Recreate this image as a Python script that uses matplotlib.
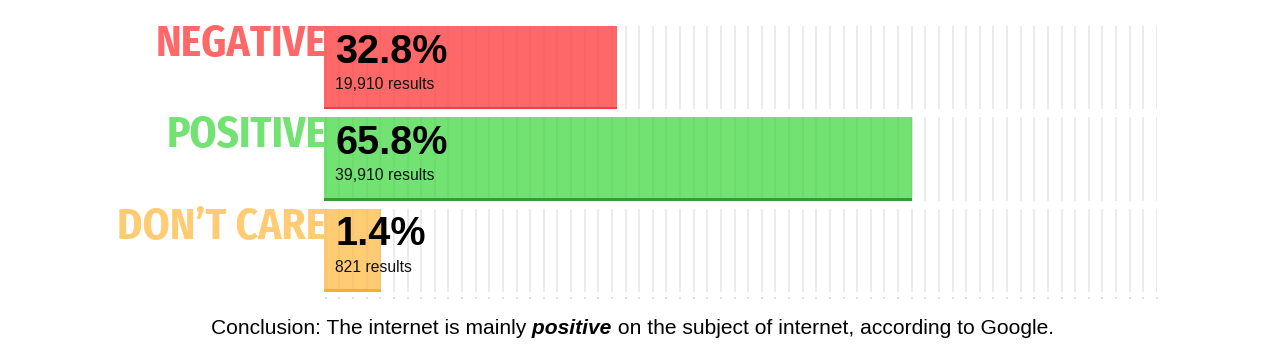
import numpy as np
import matplotlib.pyplot as plt

# Data
categories = ['NEGATIVE', 'POSITIVE', 'DON\u2019T CARE']
percent = [32.8, 65.8, 1.4]
results = ['19,910', '39,910', '821']
colors = ['#ff6868', '#72e272', '#ffcc74']
edge_colors = ['#f03c3c', '#3a9a3a', '#f5ae2e']

fig = plt.figure(figsize=(12.8, 3.53), dpi=100)
ax = fig.add_axes([324 / 1280, 1 - 292 / 353, 833 / 1280, 266 / 353])

xmax = 93.2
h = 0.912
ypos = np.arange(len(categories))
# very small shares still get a visible stub
widths = [max(p, 6.4) for p in percent]

label_font = ['Fira Sans Condensed', 'DejaVu Sans']
body_font = ['Liberation Sans', 'DejaVu Sans']

grid_x = np.linspace(0.2, xmax, 62)
for i, y in enumerate(ypos):
    ax.vlines(grid_x, y - h / 2, y + h / 2, color='#e8e8e8', lw=1.2, zorder=1)
    ax.barh(y, widths[i], height=h, color=colors[i], zorder=2)
    # darker bottom stroke
    ax.barh(y + h / 2 - 0.015, widths[i], height=0.03, color=edge_colors[i], zorder=3)
    # faint grid stripes through the bar
    inside = grid_x[grid_x < widths[i]]
    ax.vlines(inside, y - h / 2, y + h / 2 - 0.03, color='black', alpha=0.03, lw=1.2, zorder=3)

    ax.text(0.25, y - 0.25, categories[i], ha='right', va='center',
            fontsize=31, fontweight='bold', color=colors[i],
            family=label_font, zorder=1)
    ax.text(1.25, y - 0.175, f'{percent[i]}%', ha='left', va='center',
            fontsize=28.5, fontweight='bold', color='black',
            family=body_font, zorder=4)
    ax.text(1.25, y + 0.185, f'{results[i]} results', ha='left', va='center',
            fontsize=11.3, color='#111111',
            family=body_font, zorder=4)

# little tick dots under the last row
ax.vlines(grid_x, ypos[-1] + h / 2 + 0.055, ypos[-1] + h / 2 + 0.08,
          color='#dddddd', lw=1.2, clip_on=False)

ax.set_xlim(0, xmax)
ax.set_ylim(ypos[-1] + h / 2, -h / 2)
ax.axis('off')

# conclusion line, the middle word in bold italic
t1 = fig.text(211 / 1280, 1 - 338 / 353, 'Conclusion: The internet is mainly',
              ha='left', va='bottom', fontsize=15.15, color='black', family=body_font)
t2 = fig.text(0, 0, ' positive', ha='left', va='bottom', fontsize=15.15,
              fontweight='bold', fontstyle='italic', color='black', family=body_font)
t3 = fig.text(0, 0, ' on the subject of internet, according to Google.',
              ha='left', va='bottom', fontsize=15.15, color='black', family=body_font)
fig.canvas.draw()
r = fig.canvas.get_renderer()
inv = fig.transFigure.inverted()
b1 = t1.get_window_extent(r)
t2.set_position(inv.transform((b1.x1, b1.y0)))
b2 = t2.get_window_extent(r)
t3.set_position(inv.transform((b2.x1, b1.y0)))

fig.savefig('out.png', dpi=100, facecolor='white')
